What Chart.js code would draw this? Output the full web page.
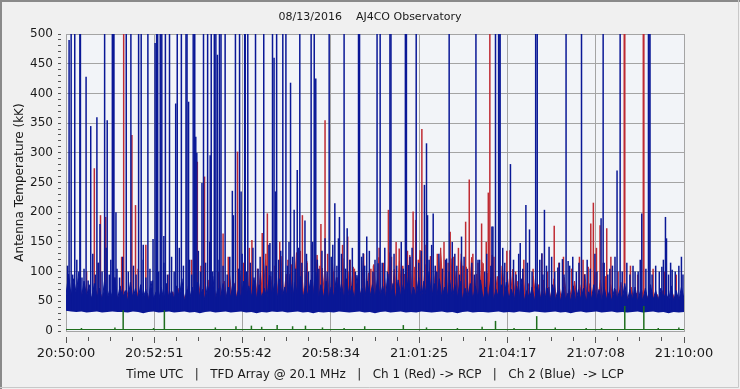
<!DOCTYPE html>
<html>
<head>
<meta charset="utf-8">
<script src="https://cdn.jsdelivr.net/npm/chart.js@4/dist/chart.umd.min.js"></script>
<style>
  html, body { margin: 0; padding: 0; background: #f0f0f0; }
  #wrap { width: 740px; height: 389px; }
</style>
</head>
<body>
<div id="wrap"><canvas id="chart" width="740" height="389"></canvas></div>
<script>
// time is in seconds after 20:50:00 UTC, temperatures in kK
const xTickLabels = ['20:50:00', '20:52:51', '20:55:42', '20:58:34', '21:01:25', '21:04:17', '21:07:08', '21:10:00'];
const spanSeconds = 1200;

// bottom edge of the ch 2 noise floor, every 10 s
const floorStep = 10;
const blueCoreFloor = [
  34, 33, 32, 33, 31, 32, 33, 31, 32, 33, 32,
  32, 31, 33, 32, 30, 32, 33, 31, 32, 33,
  31, 32, 33, 31, 32, 30, 32, 33, 31, 32,
  33, 31, 32, 33, 31, 32, 30, 32, 31, 33,
  32, 33, 31, 32, 33, 31, 32, 30, 32, 31,
  32, 31, 33, 32, 31, 32, 33, 31, 32, 30,
  32, 33, 31, 32, 33, 31, 32, 31, 33, 32,
  31, 32, 33, 31, 32, 30, 32, 33, 31, 32,
  32, 31, 32, 33, 31, 32, 31, 33, 32, 31,
  33, 32, 31, 32, 33, 31, 32, 30, 32, 33,
  31, 32, 33, 31, 32, 33, 31, 32, 31, 32,
  33, 31, 32, 33, 31, 32, 30, 32, 31, 32
];

// top of the ch 2 noise, every 5 s
const noiseStep = 5;
const blueNoise = [
  60, 96, 58, 88, 62, 100, 55, 84, 58, 78,
  52, 80, 55, 72, 50, 86, 54, 70, 56, 90,
  52, 76, 55, 68, 50, 82, 54, 72, 52, 78,
  55, 70, 50, 84, 54, 66, 52, 74, 50, 80,
  54, 68, 52, 76, 55, 88, 50, 70, 53, 74,
  52, 82, 55, 70, 51, 78, 54, 92, 52, 72,
  55, 80, 52, 74, 56, 86, 53, 70, 55, 84,
  54, 76, 57, 90, 53, 78, 56, 72, 54, 94,
  56, 80, 53, 88, 57, 74, 55, 96, 52, 82,
  56, 92, 54, 76, 58, 86, 55, 100, 53, 78,
  56, 84, 54, 74, 57, 90, 55, 80, 52, 88,
  56, 76, 54, 94, 57, 72, 53, 84, 56, 78,
  55, 88, 57, 76, 53, 96, 56, 80, 54, 86,
  57, 78, 54, 92, 56, 74, 55, 90, 53, 84,
  56, 100, 54, 80, 57, 88, 53, 74, 55, 86,
  54, 78, 56, 84, 52, 72, 55, 80, 53, 76,
  55, 86, 52, 74, 54, 90, 51, 70, 54, 78,
  52, 82, 54, 70, 50, 76, 53, 88, 51, 68,
  53, 74, 50, 80, 52, 66, 54, 72, 50, 78,
  52, 68, 50, 74, 53, 64, 51, 76, 49, 70,
  52, 72, 50, 66, 53, 78, 51, 70, 49, 74,
  52, 66, 50, 72, 53, 68, 51, 80, 50, 70,
  52, 74, 49, 66, 51, 72, 50, 78, 52, 68,
  50, 72, 52, 66, 49, 76, 51, 68, 50, 74,
  54
];
// top of the ch 1 noise, every 5 s (half a step later)
const redNoise = [
  50, 70, 48, 66, 52, 74, 49, 64, 51, 60,
  48, 72, 50, 62, 47, 68, 50, 58, 48, 64,
  50, 60, 47, 70, 51, 62, 48, 66, 50, 58,
  47, 64, 50, 58, 48, 66, 51, 60, 47, 62,
  50, 66, 48, 72, 51, 64, 49, 76, 50, 68,
  48, 80, 51, 70, 49, 86, 52, 74, 50, 90,
  52, 84, 49, 96, 53, 80, 50, 102, 52, 88,
  50, 110, 53, 86, 51, 98, 54, 120, 50, 92,
  53, 104, 51, 126, 54, 96, 52, 112, 50, 132,
  53, 100, 51, 118, 54, 94, 52, 128, 50, 106,
  53, 96, 51, 114, 54, 90, 52, 122, 50, 100,
  53, 108, 51, 92, 54, 118, 52, 98, 50, 112,
  53, 124, 51, 100, 54, 132, 52, 104, 50, 118,
  53, 96, 51, 128, 54, 108, 52, 136, 50, 112,
  53, 126, 51, 104, 54, 140, 52, 110, 50, 122,
  53, 100, 51, 130, 54, 108, 52, 124, 50, 96,
  53, 116, 51, 98, 54, 128, 52, 92, 50, 110,
  53, 88, 51, 104, 54, 84, 52, 96, 50, 80,
  52, 92, 50, 78, 53, 86, 51, 74, 49, 88,
  52, 76, 50, 90, 53, 72, 51, 84, 49, 78,
  52, 96, 50, 80, 53, 100, 51, 86, 49, 92,
  52, 78, 50, 70, 53, 82, 51, 66, 49, 74,
  52, 64, 50, 70, 53, 60, 51, 66, 49, 62,
  52, 68, 50, 58, 53, 64, 51, 60, 49, 66
];

// ch 2 (blue, LCP) bursts
const blueSpikeT = [6, 10, 17, 27, 28, 39, 48, 60, 66, 75, 80, 90, 92, 93, 97, 117, 126, 141, 146, 150,
  159, 169, 173, 176, 178, 183, 186, 190, 193, 201, 213, 216, 224, 233, 235, 238, 247, 250, 252, 254,
  264, 267, 275, 280, 282, 288, 291, 294, 298, 301, 309, 323, 325, 329, 337, 340, 347, 348, 353, 368,
  384, 396, 401, 404, 407, 409, 421, 427, 436, 443, 449, 454, 464, 476, 482, 485, 503, 511, 522, 529,
  531, 540, 546, 568, 570, 577, 584, 604, 606, 610, 629, 631, 659, 661, 665, 680, 696, 700, 702, 713,
  720, 739, 744, 750, 768, 796, 800, 827, 829, 834, 840, 841, 843, 863, 882, 893, 900, 912, 915, 924,
  929, 938, 955, 964, 971, 975, 1001, 1039, 1043, 1056, 1070, 1076, 1105, 1118, 1131, 1132, 1134, 1157, 1164, 1166,
  1177, 1195];
const blueSpikeV = [490, 520, 520, 520, 520, 428, 345, 360, 180, 520, 355, 520, 520, 520, 200, 520, 520, 520, 520, 145,
  520, 155, 485, 520, 520, 520, 520, 160, 520, 520, 383, 520, 520, 520, 520, 386, 520, 520, 327, 300,
  249, 520, 520, 296, 520, 520, 520, 465, 520, 520, 520, 236, 195, 520, 520, 235, 520, 520, 520, 520,
  520, 148, 520, 460, 235, 520, 520, 520, 418, 204, 271, 520, 186, 520, 520, 425, 156, 520, 215, 156,
  192, 520, 173, 520, 520, 131, 159, 520, 114, 520, 520, 520, 520, 520, 111, 520, 246, 316, 195, 198,
  100, 122, 520, 150, 159, 520, 120, 176, 176, 520, 520, 520, 520, 281, 148, 212, 171, 520, 520, 131,
  204, 142, 107, 121, 520, 118, 520, 190, 520, 105, 270, 520, 100, 198, 520, 520, 520, 108, 192, 156,
  103, 125];

// ch 2 smaller noise spikes above the floor
const blueClutterT = [3, 13, 21, 31, 35, 43, 52, 57, 63, 70, 78, 84, 87, 99, 104, 110, 121, 131, 136, 150,
  155, 163, 168, 180, 190, 197, 205, 210, 220, 228, 240, 244, 257, 261, 271, 279, 285, 295, 305, 313,
  318, 335, 342, 351, 358, 363, 373, 377, 389, 394, 398, 413, 417, 430, 433, 440, 446, 452, 458, 467,
  471, 479, 488, 491, 497, 507, 515, 518, 526, 535, 543, 551, 556, 562, 574, 580, 589, 596, 600, 614,
  619, 624, 637, 642, 651, 655, 668, 672, 685, 690, 705, 710, 717, 724, 731, 737, 744, 755, 759, 764,
  773, 779, 788, 793, 803, 813, 817, 825, 848, 852, 857, 869, 874, 879, 887, 896, 905, 920, 926, 933,
  943, 949, 958, 967, 978, 984, 991, 996, 1007, 1012, 1018, 1027, 1031, 1045, 1052, 1061, 1066, 1080, 1089, 1095,
  1101, 1111, 1115, 1126, 1138, 1145, 1152, 1160, 1170, 1174, 1183, 1190, 1198];
const blueClutterV = [110, 95, 120, 90, 105, 85, 130, 95, 115, 100, 140, 95, 120, 105, 90, 125, 100, 110, 95, 120,
  90, 105, 85, 100, 115, 95, 125, 100, 140, 110, 120, 95, 135, 100, 115, 150, 100, 120, 110, 95,
  125, 105, 130, 100, 115, 140, 105, 125, 110, 145, 100, 120, 135, 110, 150, 125, 105, 140, 115, 130,
  100, 150, 120, 105, 135, 100, 125, 145, 110, 130, 105, 120, 140, 100, 125, 110, 135, 100, 120, 115,
  140, 100, 130, 110, 150, 105, 125, 140, 115, 135, 120, 145, 110, 130, 105, 120, 100, 130, 110, 95,
  125, 105, 115, 95, 120, 100, 130, 110, 140, 115, 100, 120, 95, 130, 105, 115, 100, 120, 95, 110,
  125, 100, 115, 95, 110, 125, 100, 115, 95, 120, 105, 130, 100, 115, 95, 110, 125, 100, 115, 95,
  110, 100, 120, 105, 95, 110, 100, 120, 95, 115, 100, 110, 95];

// ch 1 (red, RCP) bursts
const redSpikeT = [55, 67, 77, 108, 112, 128, 135, 155, 255, 269, 305, 333, 361, 381, 391, 459, 495, 503, 547, 592,
  626, 647, 674, 679, 691, 746, 776, 783, 807, 810, 820, 823, 862, 948, 997, 1014, 1019, 1024, 1037, 1050,
  1084, 1085, 1121, 1122];
const redSpikeV = [274, 195, 192, 125, 520, 330, 212, 145, 285, 260, 164, 302, 153, 165, 198, 195, 180, 355, 159, 105,
  204, 139, 201, 187, 340, 167, 184, 255, 181, 114, 233, 520, 136, 177, 125, 108, 181, 216, 178, 173,
  520, 520, 520, 520];
const redClutterT = [40, 62, 95, 140, 200, 244, 262, 280, 296, 315, 345, 356, 372, 388, 405, 415, 431, 439, 455, 468,
  478, 493, 508, 520, 537, 552, 560, 578, 597, 608, 617, 632, 641, 654, 663, 684, 699, 708, 721, 734,
  742, 753, 762, 771, 790, 800, 816, 831, 847, 856, 873, 889, 907, 924, 935, 957, 966, 982, 1004, 1030,
  1043, 1058, 1072, 1096, 1110, 1140, 1162, 1185];
const redClutterV = [100, 115, 90, 105, 95, 120, 110, 135, 100, 125, 115, 140, 105, 130, 110, 150, 120, 100, 135, 115,
  145, 110, 130, 100, 145, 120, 105, 130, 110, 140, 115, 125, 150, 110, 135, 120, 145, 110, 130, 150,
  115, 125, 140, 110, 130, 115, 150, 125, 110, 135, 100, 120, 105, 130, 100, 115, 125, 105, 120, 140,
  115, 125, 100, 110, 95, 105, 100, 95];

// reference channel (green)
const greenLevel = 2.5;
const greenSpikeT = [30, 95, 111, 170, 191, 290, 330, 360, 380, 410, 440, 465, 498, 540, 580, 655, 700, 760, 808, 834,
  870, 914, 950, 1010, 1040, 1085, 1122, 1150, 1190];
const greenSpikeV = [5, 6, 35, 5, 35, 6, 8, 9, 7, 10, 8, 9, 6, 5, 8, 10, 6, 5, 7, 17,
  5, 25, 6, 5, 5, 42, 42, 5, 6];

const blueBase = 34, redBase = 36;
const BLUE = '#0a1896', RED = '#bf2b33', GREEN = '#1e6e1e', GRID = '#a4a4a4', TEXT = '#1a1a1a';

function floating(ts, vs, base) {
  return ts.map((t, i) => ({x: t, y: [base, vs[i]]}));
}
function sampled(vs, step, shift) {
  return vs.map((v, i) => ({x: i * step + shift, y: v}));
}

const plotBackground = {
  id: 'plotBackground',
  beforeDraw(chart) {
    const {ctx, chartArea: a} = chart;
    ctx.save();
    ctx.fillStyle = '#f0f0f0';
    ctx.fillRect(0, 0, chart.width, chart.height);
    ctx.fillStyle = '#f2f4f8';
    ctx.fillRect(a.left, a.top, a.width, a.height);
    ctx.restore();
  },
  afterDraw(chart) {
    const ctx = chart.ctx;
    ctx.save();
    ctx.strokeStyle = '#8a8a8a';
    ctx.lineWidth = 2;
    ctx.beginPath();
    ctx.moveTo(1, chart.height);
    ctx.lineTo(1, 1);
    ctx.lineTo(chart.width, 1);
    ctx.stroke();
    ctx.strokeStyle = '#c8c8c8';
    ctx.lineWidth = 1;
    ctx.beginPath();
    ctx.moveTo(chart.width - 1.5, 0);
    ctx.lineTo(chart.width - 1.5, chart.height - 1.5);
    ctx.lineTo(0, chart.height - 1.5);
    ctx.stroke();
    ctx.restore();
  }
};

Chart.defaults.font.family = '"DejaVu Sans", sans-serif';
Chart.defaults.color = TEXT;

const spikeStyle = {barThickness: 1.5, inflateAmount: 0, borderWidth: 0, grouped: false};

new Chart(document.getElementById('chart'), {
  type: 'bar',
  data: {
    datasets: [
      {
        type: 'line', data: sampled(blueCoreFloor, floorStep, 0),
        borderWidth: 0, pointRadius: 0, fill: false, order: 5
      },
      {
        type: 'line', data: sampled(blueNoise, noiseStep, 0),
        borderColor: BLUE, backgroundColor: BLUE, borderWidth: 1,
        pointRadius: 0, fill: '-1', order: 4
      },
      {
        type: 'line', data: sampled(redNoise, noiseStep, noiseStep / 2),
        borderColor: RED, backgroundColor: RED, borderWidth: 1,
        pointRadius: 0, fill: {value: redBase}, order: 7
      },
      Object.assign({
        data: floating(redSpikeT, redSpikeV, redBase).concat(floating(redClutterT, redClutterV, redBase)),
        backgroundColor: RED, order: 6
      }, spikeStyle),
      Object.assign({
        data: floating(blueSpikeT, blueSpikeV, blueBase).concat(floating(blueClutterT, blueClutterV, blueBase)),
        backgroundColor: BLUE, order: 3
      }, spikeStyle),
      {
        type: 'line', data: [{x: 0, y: greenLevel}, {x: spanSeconds, y: greenLevel}],
        borderColor: GREEN, borderWidth: 1.2, pointRadius: 0, fill: false, order: 1
      },
      Object.assign({
        data: floating(greenSpikeT, greenSpikeV, greenLevel),
        backgroundColor: GREEN, order: 1
      }, spikeStyle)
    ]
  },
  options: {
    responsive: false,
    animation: false,
    devicePixelRatio: 1,
    layout: {padding: 0},
    plugins: {
      legend: {display: false},
      tooltip: {enabled: false},
      title: {
        display: true,
        text: '08/13/2016    AJ4CO Observatory',
        font: {size: 11, weight: 'normal'},
        color: TEXT,
        padding: {top: 11, bottom: 9.8}
      }
    },
    scales: {
      x: {
        type: 'linear',
        min: 0, max: spanSeconds,
        offset: false,
        afterBuildTicks: (s) => {
          const ticks = [];
          for (let i = 0; i <= 28; i++) ticks.push({value: i * spanSeconds / 28});
          s.ticks = ticks;
        },
        afterFit: (s) => { s.height = 58; },
        ticks: {
          autoSkip: false, maxRotation: 0, padding: 3,
          font: {size: 13},
          callback: (v, i) => (i % 4 === 0 ? xTickLabels[i / 4] : '')
        },
        grid: {
          offset: false,
          color: (c) => (c.index % 4 === 0 ? GRID : 'rgba(0,0,0,0)'),
          tickColor: '#555',
          tickLength: 12,
          tickBorderDash: (c) => (c.index % 4 === 0 ? [0, 5, 6, 40] : [0, 5, 4, 40])
        },
        border: {color: GRID},
        title: {
          display: true,
          text: 'Time UTC   |   TFD Array @ 20.1 MHz   |   Ch 1 (Red) -> RCP   |   Ch 2 (Blue)  -> LCP',
          font: {size: 12},
          padding: {top: 0, bottom: 7}
        }
      },
      y: {
        min: 0, max: 500,
        afterBuildTicks: (s) => {
          const ticks = [];
          for (let v = 0; v <= 500; v += 10) ticks.push({value: v});
          s.ticks = ticks;
        },
        afterFit: (s) => { s.width = 66; },
        ticks: {
          autoSkip: false, padding: 5,
          font: {size: 12},
          callback: (v) => (v % 50 === 0 ? v : '')
        },
        grid: {
          color: (c) => (c.tick && c.tick.value % 50 === 0 ? GRID : 'rgba(0,0,0,0)'),
          tickColor: '#555',
          tickLength: 8,
          tickBorderDash: [3, 20]
        },
        border: {color: GRID},
        title: {
          display: true,
          text: 'Antenna Temperature (kK)',
          font: {size: 12},
          padding: {top: 13, bottom: 0}
        }
      },
      // empty right-hand margin so the title stays centred on the whole image
      rightMargin: {
        type: 'linear', position: 'right', display: true,
        min: 0, max: 500,
        afterFit: (s) => { s.width = 56; },
        ticks: {display: false},
        grid: {drawOnChartArea: false, drawTicks: false},
        border: {display: false}
      }
    }
  },
  plugins: [plotBackground]
});
</script>
</body>
</html>
